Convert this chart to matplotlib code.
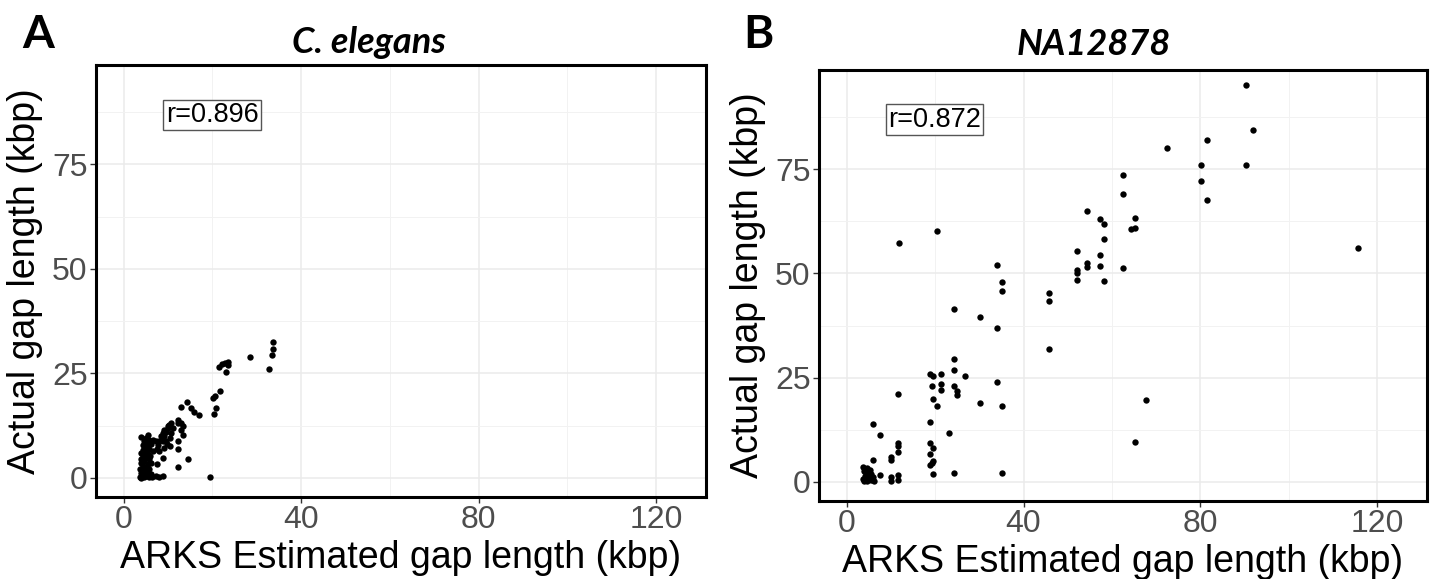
import numpy as np
import matplotlib
matplotlib.use("Agg")
import matplotlib.pyplot as plt
from matplotlib.ticker import MultipleLocator

# C. elegans: ARKS estimated vs actual gap length (kbp)
ce_x = [33.6, 33.6, 33.4, 32.7, 28.4,
        23.4, 22.9, 22.1, 21.5, 23.6, 23.0,
        21.6, 20.6, 20.2, 20.7, 20.3, 19.5,
        14.2, 12.9, 15.2, 15.8, 16.9,
        12.3, 12.9, 13.4, 12.2, 12.9, 13.3,
        12.2, 12.2, 12.2, 14.6,
        10.7, 9.9, 9.9, 9.1, 9.6, 8.9, 8.4, 9.1, 9.5, 8.9, 8.0, 7.7, 7.3, 7.5,
        8.0, 9.1, 8.9, 7.6, 7.3, 8.0, 8.9, 10.3, 10.7, 11.2, 10.5, 9.8, 10.4,
        5.5, 5.0, 5.6, 4.6, 5.4, 4.3, 5.0, 5.8, 4.3, 5.0, 3.9, 5.5, 4.3, 5.0,
        3.9, 5.8, 4.6, 3.9, 5.4, 6.2, 4.3, 5.0, 3.6, 5.8, 4.6, 3.9, 5.4, 6.2,
        4.3, 5.0, 3.6, 5.8, 4.6, 6.4, 3.9, 6.5, 6.5, 6.2, 4.0, 6.0]
ce_y = [32.5, 30.9, 29.3, 26.0, 28.8,
        27.8, 27.4, 27.2, 26.6, 27.0, 25.3,
        20.8, 19.5, 19.1, 16.7, 15.3, 0.1,
        18.1, 16.9, 16.7, 15.7, 15.1,
        13.9, 13.1, 12.5, 13.1, 11.5, 10.3,
        8.7, 6.8, 2.6, 4.6,
        13.1, 12.3, 11.9, 11.5, 11.0, 10.7, 9.9, 9.9, 8.9, 8.7, 8.7, 7.9, 8.7, 6.8,
        6.4, 7.2, 4.8, 3.2, 0.4, 0.3, 0.4, 12.7, 10.7, 12.0, 9.5, 8.0, 7.5,
        10.3, 9.6, 9.1, 8.7, 8.2, 7.9, 7.4, 7.0, 6.7, 6.2, 6.0, 5.8, 5.2, 4.9,
        4.6, 4.4, 4.0, 3.6, 3.4, 3.6, 2.8, 2.5, 2.2, 2.0, 1.6, 1.2, 1.1, 1.0,
        0.6, 0.4, 0.3, 0.2, 0.1, 0.1, 0.0, 6.5, 9.0, 8.0, 9.8, 5.2]

# NA12878
na_x = [90.3, 92.0, 81.5, 72.4, 80.1, 90.3, 62.5, 80.1, 62.5, 81.5,
        54.4, 57.4, 58.3, 65.2, 64.4, 65.2, 58.3, 57.4, 54.4, 54.4,
        57.4, 62.5, 58.3, 115.7, 67.7, 65.2,
        52.0, 52.0, 52.0, 52.0, 11.9, 20.4, 33.9, 35.1, 35.1, 45.8, 45.8,
        24.3, 30.2, 33.9, 45.8, 24.3, 24.3, 18.9, 19.5, 21.4, 26.8, 19.2,
        21.4, 21.4, 24.3, 24.9, 24.9, 33.9, 11.7, 19.5, 20.4, 30.2, 35.1,
        18.9, 5.9, 7.6, 23.2, 11.7, 11.7, 11.7, 18.9, 19.5, 18.9, 10.0,
        10.0, 5.9, 18.9, 19.2, 19.5, 19.5, 24.3, 35.1, 7.6, 10.0, 10.0,
        11.7, 11.7,
        3.8, 4.6, 5.3, 3.9, 4.8, 5.6, 4.2, 5.0, 6.0, 3.8, 4.5, 5.4, 6.1,
        4.0, 5.0, 4.3]
na_y = [95.2, 84.3, 82.0, 80.1, 76.0, 76.0, 73.7, 72.2, 69.1, 67.7,
        64.9, 63.0, 61.8, 63.4, 60.6, 60.8, 58.2, 54.5, 52.4, 51.6,
        51.8, 51.2, 48.2, 56.0, 19.6, 9.6,
        55.3, 50.7, 50.2, 48.3, 57.3, 60.1, 51.9, 48.0, 45.8, 45.4, 43.3,
        41.4, 39.6, 36.9, 31.8, 29.4, 26.8, 25.9, 25.3, 25.9, 25.5, 22.9,
        23.5, 22.0, 22.9, 21.8, 20.9, 23.9, 21.1, 19.9, 18.3, 18.9, 18.2,
        14.3, 13.9, 11.2, 11.6, 9.4, 8.6, 7.2, 9.2, 8.2, 6.6, 5.9,
        5.3, 5.2, 4.0, 4.6, 5.0, 1.9, 2.1, 2.2, 1.6, 1.1, 0.3,
        1.6, 0.4,
        3.6, 3.2, 2.8, 2.5, 2.0, 1.8, 1.4, 1.0, 1.2, 0.6, 0.3, 0.4, 0.2,
        0.1, 2.6, 2.9]

titles = ["C. elegans", "NA12878"]
letters = ["A", "B"]
r_labels = ["r=0.896", "r=0.872"]
x_ticks = [0, 40, 80, 120]
y_ticks = [0, 25, 50, 75]

fig = plt.figure(figsize=(14.35, 5.79), dpi=100)
ax1 = fig.add_axes([96/1435, 82/579, 610/1435, 432/579])
ax2 = fig.add_axes([819/1435, 78/579, 608/1435, 431/579])

sans = "Liberation Sans"
for ax, xs, ys, r in [(ax1, ce_x, ce_y, r_labels[0]), (ax2, na_x, na_y, r_labels[1])]:
    ax.scatter(xs, ys, s=21, color="black", linewidths=0, zorder=3)
    ax.set_xlim(-6.25, 131.25)
    ax.set_ylim(-4.6, 98.8)
    ax.set_xticks(x_ticks)
    ax.set_yticks(y_ticks)
    ax.xaxis.set_minor_locator(MultipleLocator(20))
    ax.yaxis.set_minor_locator(MultipleLocator(12.5))
    ax.grid(True, which="major", color="#EBEBEB", lw=1.1, zorder=0)
    ax.grid(True, which="minor", color="#F2F2F2", lw=0.7, zorder=0)
    ax.tick_params(which="minor", length=0)
    ax.tick_params(which="major", length=4, width=1, color="#333333",
                   labelsize=23, labelcolor="#4D4D4D", pad=2)
    for lab in ax.get_xticklabels() + ax.get_yticklabels():
        lab.set_fontfamily(sans)
    for sp in ax.spines.values():
        sp.set_linewidth(2.2)
        sp.set_color("black")
    ax.set_xlabel("ARKS Estimated gap length (kbp)", fontsize=27, family=sans, color="black")
    ax.set_ylabel("Actual gap length (kbp)", fontsize=27, family=sans, color="black")
    ax.yaxis.set_label_coords(-0.087, 0.5)
    ax.xaxis.set_label_coords(0.5, -0.1)
    ax.text(19.9, 86.9, r, ha="center", va="center", fontsize=19.5, family=sans,
            bbox=dict(boxstyle="square,pad=0.08", fc="white", ec="#555555", lw=1), zorder=4)

fig.text(369/1435, 1 - 53/579, titles[0], ha="center", va="baseline",
         fontsize=26, family="Lato", fontweight="bold", fontstyle="italic")
fig.text(1094/1435, 1 - 55/579, titles[1], ha="center", va="baseline",
         fontsize=26, family="Lato", fontweight="bold", fontstyle="italic")
fig.text(22/1435, 1 - 48/579, letters[0], ha="left", va="baseline",
         fontsize=33, family="Lato", fontweight="bold")
fig.text(743/1435, 1 - 48/579, letters[1], ha="left", va="baseline",
         fontsize=33, family="Lato", fontweight="bold")

fig.savefig("out.png", dpi=100)
